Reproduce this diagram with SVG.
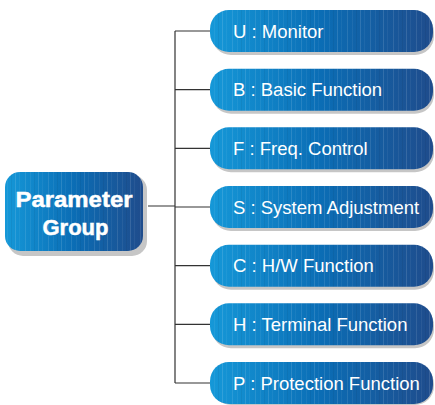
<svg xmlns="http://www.w3.org/2000/svg" width="435" height="405" viewBox="0 0 435 405">
  <defs>
    <linearGradient id="blue" x1="0" y1="0" x2="1" y2="0">
      <stop offset="0" stop-color="#1598d8"/>
      <stop offset="0.5" stop-color="#0b6db5"/>
      <stop offset="1" stop-color="#1f4c8c"/>
    </linearGradient>
    <!-- fine vertical streaks over the blue fill -->
    <pattern id="streaks" width="23" height="10" patternUnits="userSpaceOnUse">
      <rect x="2" y="0" width="1" height="10" fill="#ffffff" opacity="0.10"/>
      <rect x="7" y="0" width="1" height="10" fill="#ffffff" opacity="0.06"/>
      <rect x="11" y="0" width="1" height="10" fill="#000000" opacity="0.05"/>
      <rect x="15" y="0" width="1" height="10" fill="#ffffff" opacity="0.12"/>
      <rect x="19" y="0" width="1" height="10" fill="#ffffff" opacity="0.05"/>
    </pattern>
    <filter id="soft" x="-10%" y="-10%" width="130%" height="140%">
      <feGaussianBlur stdDeviation="0.6"/>
    </filter>
  </defs>
  <style>
    .shadow { fill: #c6c6c6; filter: url(#soft); }
    .box { fill: url(#blue); }
    .streak { fill: url(#streaks); }
    .lbl { font-family: "Liberation Sans", Arial, sans-serif; font-size: 18.5px; fill: #ffffff; }
    .title { font-family: "Liberation Sans", Arial, sans-serif; font-size: 22px; font-weight: bold; fill: #ffffff; stroke: #ffffff; stroke-width: 0.5; text-anchor: middle; }
    .wire { stroke: #333333; stroke-width: 1.2; fill: none; }
  </style>

  <g id="connectors">
    <path class="wire" d="M148 206 H175 M175 31 V383 M175 31 H210 M175 89.7 H210 M175 148.3 H210 M175 207 H210 M175 265.7 H210 M175 324.3 H210 M175 383 H210"/>
  </g>

  <g id="parameter-group">
    <rect class="shadow" x="8" y="175" width="139" height="81" rx="15"/>
    <rect class="box" x="5" y="172" width="138" height="79" rx="15"/>
    <rect class="streak" x="5" y="172" width="138" height="79" rx="15"/>
    <text class="title" x="74" y="206.5" textLength="117" lengthAdjust="spacingAndGlyphs">Parameter</text>
    <text class="title" x="75.5" y="234.5" textLength="66" lengthAdjust="spacingAndGlyphs">Group</text>
  </g>

  <g id="node-u">
    <rect class="shadow" x="212" y="13" width="222" height="42" rx="19"/>
    <rect class="box" x="210" y="10" width="223" height="42" rx="19"/>
    <rect class="streak" x="210" y="10" width="223" height="42" rx="19"/>
    <text class="lbl" x="233" y="37.5">U : Monitor</text>
  </g>

  <g id="node-b">
    <rect class="shadow" x="212" y="71.7" width="222" height="42" rx="19"/>
    <rect class="box" x="210" y="68.7" width="223" height="42" rx="19"/>
    <rect class="streak" x="210" y="68.7" width="223" height="42" rx="19"/>
    <text class="lbl" x="233" y="96.2">B : Basic Function</text>
  </g>

  <g id="node-f">
    <rect class="shadow" x="212" y="130.3" width="222" height="42" rx="19"/>
    <rect class="box" x="210" y="127.3" width="223" height="42" rx="19"/>
    <rect class="streak" x="210" y="127.3" width="223" height="42" rx="19"/>
    <text class="lbl" x="233" y="154.8">F : Freq. Control</text>
  </g>

  <g id="node-s">
    <rect class="shadow" x="212" y="189" width="222" height="42" rx="19"/>
    <rect class="box" x="210" y="186" width="223" height="42" rx="19"/>
    <rect class="streak" x="210" y="186" width="223" height="42" rx="19"/>
    <text class="lbl" x="233" y="213.5">S : System Adjustment</text>
  </g>

  <g id="node-c">
    <rect class="shadow" x="212" y="247.7" width="222" height="42" rx="19"/>
    <rect class="box" x="210" y="244.7" width="223" height="42" rx="19"/>
    <rect class="streak" x="210" y="244.7" width="223" height="42" rx="19"/>
    <text class="lbl" x="233" y="272.2">C : H/W Function</text>
  </g>

  <g id="node-h">
    <rect class="shadow" x="212" y="306.3" width="222" height="42" rx="19"/>
    <rect class="box" x="210" y="303.3" width="223" height="42" rx="19"/>
    <rect class="streak" x="210" y="303.3" width="223" height="42" rx="19"/>
    <text class="lbl" x="233" y="330.8">H : Terminal Function</text>
  </g>

  <g id="node-p">
    <rect class="shadow" x="212" y="365" width="222" height="40" rx="19"/>
    <rect class="box" x="210" y="362" width="223" height="42" rx="19"/>
    <rect class="streak" x="210" y="362" width="223" height="42" rx="19"/>
    <text class="lbl" x="233" y="389.5">P : Protection Function</text>
  </g>
</svg>
